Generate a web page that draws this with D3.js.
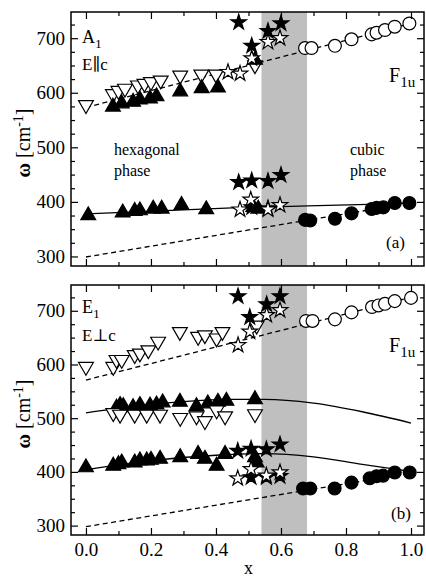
<!DOCTYPE html>
<html>
<head>
<meta charset="utf-8">
<script src="https://cdn.jsdelivr.net/npm/d3@7"></script>
<style>
  body { margin: 0; background: #fff; }
  svg { display: block; font-family: "Liberation Serif", "DejaVu Serif", serif; }
</style>
</head>
<body>
<div class="graph"></div>
<script>
// ---- panel (a): A1, E||c ----
const aDownOpenX = [0, 0.083, 0.10, 0.12, 0.16, 0.18, 0.20, 0.23, 0.29, 0.355, 0.40, 0.52];
const aDownOpenY = [575, 595, 601, 605, 611, 614, 617, 620, 629, 631, 631, 648];
const aUpFillX = [0.083, 0.11, 0.145, 0.166, 0.197, 0.217, 0.29, 0.356, 0.406, 0.52];
const aUpFillY = [577, 583, 586, 590, 592, 596, 605, 611, 612, 663];
const aStarOpenX = [0.437, 0.474, 0.51, 0.56, 0.597];
const aStarOpenY = [638, 635, 663, 693, 700];
const aStarFillX = [0.47, 0.51, 0.56, 0.6];
const aStarFillY = [729, 686, 713, 727];
const aCircOpenX = [0.674, 0.694, 0.766, 0.817, 0.879, 0.894, 0.92, 0.95, 0.995];
const aCircOpenY = [682, 682, 686, 698, 707, 710, 715, 721, 727];
const aUpLowX = [0.007, 0.113, 0.15, 0.166, 0.207, 0.233, 0.294, 0.37, 0.515, 0.53];
const aUpLowY = [378, 383, 386, 387, 390, 390, 397, 389, 393, 390];
const aStarOpenLowX = [0.474, 0.507, 0.56, 0.597];
const aStarOpenLowY = [386, 404, 386, 394];
const aStarFillLowX = [0.47, 0.51, 0.56, 0.6, 0.51, 0.56];
const aStarFillLowY = [436, 439, 438, 449, 390, 388];
const aCircFillX = [0.674, 0.69, 0.766, 0.817, 0.879, 0.894, 0.915, 0.95, 0.995];
const aCircFillY = [367, 366, 369, 379, 387, 389, 390, 398, 398];
// model curves (a)
const aDashUpX = [0, 1], aDashUpY = [573, 727];
const aDashLowX = [0, 1], aDashLowY = [299, 398];
const aSolidX = [0, 0.45, 0.9, 1.0], aSolidY = [378, 389, 396, 398];

// ---- panel (b): E1, E_|_c ----
const bDownOpenX = [0, 0.084, 0.094, 0.11, 0.15, 0.166, 0.192, 0.222, 0.289, 0.345, 0.366, 0.402, 0.42, 0.525];
const bDownOpenY = [593, 593, 606, 606, 615, 618, 624, 640, 658, 649, 652, 646, 658, 670];
const bStarOpenX = [0.468, 0.504, 0.556, 0.597];
const bStarOpenY = [636, 661, 692, 701];
const bStarFillX = [0.468, 0.504, 0.556, 0.597];
const bStarFillY = [727, 688, 712, 727];
const bCircOpenX = [0.677, 0.697, 0.766, 0.817, 0.88, 0.9, 0.92, 0.95, 1.0];
const bCircOpenY = [681, 681, 684, 697, 707, 710, 713, 718, 724];
const bUpMidX = [0.094, 0.105, 0.115, 0.145, 0.166, 0.197, 0.217, 0.236, 0.289, 0.34, 0.375, 0.406, 0.432, 0.52];
const bUpMidY = [522, 527, 525, 523, 527, 526, 528, 532, 533, 525, 530, 533, 535, 538];
const bDownMidX = [0.084, 0.105, 0.15, 0.187, 0.228, 0.29, 0.34, 0.366, 0.402, 0.428, 0.52];
const bDownMidY = [507, 504, 504, 504, 504, 498, 501, 492, 512, 501, 505];
const bUpLowX = [0, 0.084, 0.1, 0.11, 0.15, 0.166, 0.187, 0.2, 0.228, 0.29, 0.345, 0.366, 0.402, 0.428, 0.52, 0.525];
const bUpLowY = [411, 414, 417, 420, 420, 424, 424, 425, 427, 430, 436, 427, 414, 436, 430, 420];
const bStarFillLowX = [0.467, 0.508, 0.555, 0.597, 0.508, 0.555, 0.597];
const bStarFillLowY = [439, 443, 442, 451, 390, 390, 392];
const bStarOpenLowX = [0.467, 0.508, 0.555, 0.597];
const bStarOpenLowY = [388, 405, 393, 399];
const bCircFillX = [0.668, 0.69, 0.765, 0.817, 0.873, 0.894, 0.914, 0.95, 0.996];
const bCircFillY = [369, 369, 369, 380, 388, 392, 393, 399, 399];
// model curves (b)
const bDashUpX = [0, 1], bDashUpY = [571, 725];
const bDashLowX = [0, 1], bDashLowY = [298, 398];
const bSolidMidX = [0, 0.15, 0.3, 0.45, 0.55, 0.7, 0.85, 1.0];
const bSolidMidY = [510, 522, 531, 535, 535, 528, 512, 491];
const bSolidLowX = [0, 0.2, 0.4, 0.55, 0.7, 0.85, 1.0];
const bSolidLowY = [404, 421, 431, 434, 428, 414, 401];

// axis ticks
const xMajor = [0, 0.2, 0.4, 0.6, 0.8, 1.0];
const xMinor = [0.1, 0.3, 0.5, 0.7, 0.9];
const yMajor = [300, 400, 500, 600, 700];
const yMinor = [325, 350, 375, 425, 450, 475, 525, 550, 575, 625, 650, 675, 725];
const band = [0.54, 0.68];

const width = 426, height = 580;
const svg = d3.select(".graph").append("svg")
  .attr("width", width).attr("height", height);

const x = d3.scaleLinear().domain([-0.046, 1.04]).range([71, 424]);

function zip(xs, ys) { return xs.map((v, i) => [v, ys[i]]); }

function drawPanel(top, bottom, showXLabels, curves, marks, texts) {
  const y = d3.scaleLinear().domain([282.5, 748]).range([bottom, top]);
  const g = svg.append("g");

  // shaded transition region
  g.append("rect")
    .attr("x", x(band[0])).attr("width", x(band[1]) - x(band[0]))
    .attr("y", top).attr("height", bottom - top)
    .attr("fill", "#bfbfbf");

  // curves
  const line = d3.line().x(d => x(d[0])).y(d => y(d[1])).curve(d3.curveMonotoneX);
  curves.forEach(c => {
    g.append("path")
      .attr("d", line(zip(c.x, c.y)))
      .attr("fill", "none")
      .attr("stroke", "#000")
      .attr("stroke-width", 1.3)
      .attr("stroke-dasharray", c.dash ? "5,3.5" : null);
  });

  // markers
  marks.forEach(m => {
    let sym, rot = 0;
    if (m.type === "up") sym = d3.symbol(d3.symbolTriangle, 95);
    if (m.type === "down") { sym = d3.symbol(d3.symbolTriangle, 95); rot = 180; }
    if (m.type === "star") sym = d3.symbol(d3.symbolStar, 75);
    if (m.type === "circle") sym = d3.symbol(d3.symbolCircle, 130);
    g.selectAll(null)
      .data(zip(m.x, m.y))
      .enter().append("path")
      .attr("d", sym)
      .attr("transform", d => "translate(" + x(d[0]) + "," + (y(d[1]) + (m.type === "up" ? 1.5 : m.type === "down" ? -1.5 : 0)) + ") rotate(" + rot + ")")
      .attr("fill", m.fill ? "#000" : "#fff")
      .attr("stroke", "#000")
      .attr("stroke-width", 1.2);
  });

  // axes, ticks pointing inward
  const axes = [
    { a: d3.axisLeft(y).tickValues(yMajor).tickSize(-7).tickPadding(6), t: "translate(71,0)" },
    { a: d3.axisLeft(y).tickValues(yMinor).tickSize(-4).tickFormat(""), t: "translate(71,0)" },
    { a: d3.axisRight(y).tickValues(yMajor).tickSize(-7).tickFormat(""), t: "translate(424,0)" },
    { a: d3.axisRight(y).tickValues(yMinor).tickSize(-4).tickFormat(""), t: "translate(424,0)" },
    { a: d3.axisBottom(x).tickValues(xMajor).tickSize(-7).tickPadding(8).tickFormat(showXLabels ? d3.format(".1f") : ""), t: "translate(0," + bottom + ")" },
    { a: d3.axisBottom(x).tickValues(xMinor).tickSize(-4).tickFormat(""), t: "translate(0," + bottom + ")" },
    { a: d3.axisTop(x).tickValues(xMajor).tickSize(-7).tickFormat(""), t: "translate(0," + top + ")" },
    { a: d3.axisTop(x).tickValues(xMinor).tickSize(-4).tickFormat(""), t: "translate(0," + top + ")" }
  ];
  axes.forEach(ax => {
    const s = g.append("g").attr("transform", ax.t).call(ax.a);
    s.select(".domain").remove();
    s.selectAll("line").attr("stroke", "#000").attr("stroke-width", 1.2);
    s.selectAll("text").attr("font-family", "Liberation Serif").attr("font-size", 19).attr("fill", "#000");
  });

  // frame
  g.append("rect")
    .attr("x", 71).attr("y", top).attr("width", 424 - 71).attr("height", bottom - top)
    .attr("fill", "none").attr("stroke", "#000").attr("stroke-width", 1.5);

  // y label
  const yl = g.append("text")
    .attr("transform", "translate(30," + ((top + bottom) / 2 + 4) + ") rotate(-90)")
    .attr("text-anchor", "middle")
    .attr("font-size", 20);
  yl.append("tspan").attr("font-weight", "bold").text("ω");
  yl.append("tspan").text(" [cm");
  yl.append("tspan").attr("font-size", 14).attr("dy", -7).text("-1");
  yl.append("tspan").attr("dy", 7).text("]");

  // annotations
  texts.forEach(t => {
    const el = g.append("text")
      .attr("x", t.x).attr("y", t.y)
      .attr("font-size", t.size || 17)
      .attr("text-anchor", t.anchor || "start");
    el.append("tspan").text(t.main);
    if (t.sub) el.append("tspan").attr("font-size", (t.size || 17) * 0.75).attr("dy", 5).text(t.sub);
  });
  return y;
}

drawPanel(12, 266, false,
  [
    { x: aDashUpX, y: aDashUpY, dash: true },
    { x: aDashLowX, y: aDashLowY, dash: true },
    { x: aSolidX, y: aSolidY }
  ],
  [
    { type: "down", fill: false, x: aDownOpenX, y: aDownOpenY },
    { type: "up", fill: true, x: aUpFillX, y: aUpFillY },
    { type: "star", fill: true, x: aStarFillX, y: aStarFillY },
    { type: "star", fill: false, x: aStarOpenX, y: aStarOpenY },
    { type: "circle", fill: false, x: aCircOpenX, y: aCircOpenY },
    { type: "star", fill: true, x: aStarFillLowX, y: aStarFillLowY },
    { type: "up", fill: true, x: aUpLowX, y: aUpLowY },
    { type: "star", fill: false, x: aStarOpenLowX, y: aStarOpenLowY },
    { type: "circle", fill: true, x: aCircFillX, y: aCircFillY }
  ],
  [
    { x: 82, y: 43, main: "A", sub: "1", size: 18 },
    { x: 82, y: 70, main: "E\u2225c", size: 17 },
    { x: 114, y: 155, main: "hexagonal", size: 16 },
    { x: 114, y: 176, main: "phase", size: 16 },
    { x: 350, y: 155, main: "cubic", size: 16 },
    { x: 350, y: 176, main: "phase", size: 16 },
    { x: 389, y: 82, main: "F", sub: "1u", size: 20 },
    { x: 386, y: 248, main: "(a)", size: 17 }
  ]
);

drawPanel(285, 535, true,
  [
    { x: bDashUpX, y: bDashUpY, dash: true },
    { x: bDashLowX, y: bDashLowY, dash: true },
    { x: bSolidMidX, y: bSolidMidY },
    { x: bSolidLowX, y: bSolidLowY }
  ],
  [
    { type: "down", fill: false, x: bDownOpenX, y: bDownOpenY },
    { type: "star", fill: true, x: bStarFillX, y: bStarFillY },
    { type: "star", fill: false, x: bStarOpenX, y: bStarOpenY },
    { type: "circle", fill: false, x: bCircOpenX, y: bCircOpenY },
    { type: "up", fill: true, x: bUpMidX, y: bUpMidY },
    { type: "down", fill: false, x: bDownMidX, y: bDownMidY },
    { type: "up", fill: true, x: bUpLowX, y: bUpLowY },
    { type: "star", fill: true, x: bStarFillLowX, y: bStarFillLowY },
    { type: "star", fill: false, x: bStarOpenLowX, y: bStarOpenLowY },
    { type: "circle", fill: true, x: bCircFillX, y: bCircFillY }
  ],
  [
    { x: 82, y: 313, main: "E", sub: "1", size: 18 },
    { x: 82, y: 341, main: "E\u22a5c", size: 17 },
    { x: 389, y: 352, main: "F", sub: "1u", size: 20 },
    { x: 391, y: 519, main: "(b)", size: 17 }
  ]
);

// x axis title at the bottom edge
svg.append("text")
  .attr("x", x(0.5)).attr("y", 574)
  .attr("text-anchor", "middle")
  .attr("font-size", 18)
  .text("x");
</script>
</body>
</html>
